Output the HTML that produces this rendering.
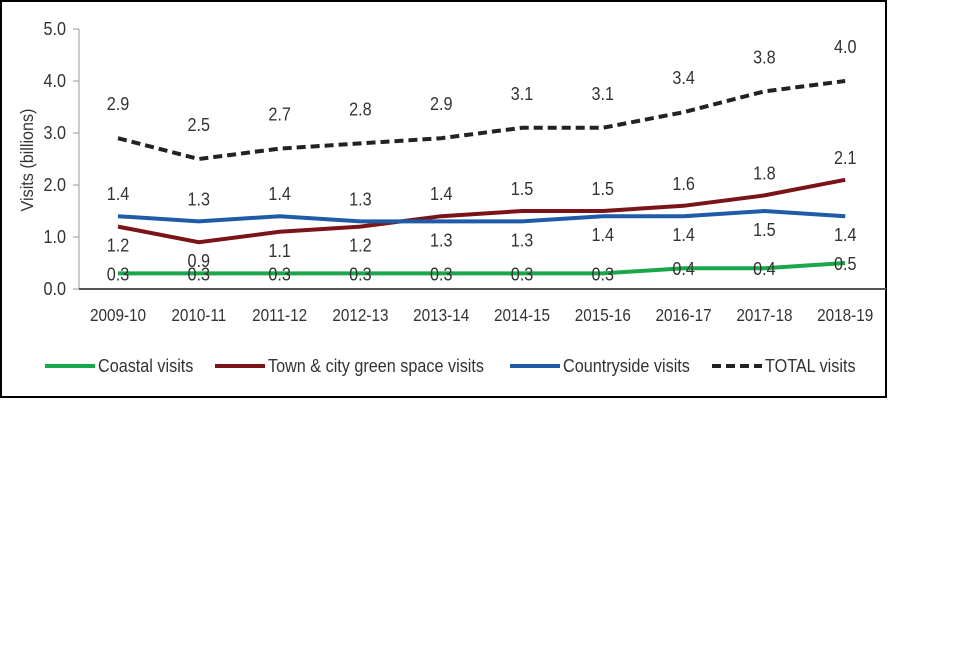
<!DOCTYPE html>
<html><head><meta charset="utf-8"><style>
html,body{margin:0;padding:0;background:#fff;}
svg text{font-family:"Liberation Sans",sans-serif;fill:#333;}
</style></head><body>
<svg id="chart" width="960" height="640" xmlns="http://www.w3.org/2000/svg">
<rect x="1" y="1" width="885" height="396" fill="#fff" stroke="#000" stroke-width="2"/>
<g id="axes"></g><g id="series"></g><g id="labels"></g>
<g id="legend"></g>
</svg>
<script>
const categories=["2009-10","2010-11","2011-12","2012-13","2013-14","2014-15","2015-16","2016-17","2017-18","2018-19"];
const coastal=[0.3,0.3,0.3,0.3,0.3,0.3,0.3,0.4,0.4,0.5];
const town=[1.2,0.9,1.1,1.2,1.4,1.5,1.5,1.6,1.8,2.1];
const countryside=[1.4,1.3,1.4,1.3,1.3,1.3,1.4,1.4,1.5,1.4];
const total=[2.9,2.5,2.7,2.8,2.9,3.1,3.1,3.4,3.8,4.0];
const townLabels=[1.2,0.9,1.1,1.2,1.3,1.3,1.4,1.4,1.5,1.4];
const countryLabels=[1.4,1.3,1.4,1.3,1.4,1.5,1.5,1.6,1.8,2.1];
const yTicks=[0,1,2,3,4,5];
const NS="http://www.w3.org/2000/svg";
const x=i=>118+i*80.8;
const y=v=>289-v*52;
function mk(tag,parent,attrs){const e=document.createElementNS(NS,tag);for(const k in attrs)e.setAttribute(k,attrs[k]);document.getElementById(parent).appendChild(e);return e;}
function txt(parent,tx,ty,anchor,size,str){
 const e=mk('text',parent,{x:0,y:0,'text-anchor':anchor,'font-size':size,transform:'translate('+tx+','+ty+') scale(0.9,1.05)'});
 e.textContent=str;return e;
}
const ax=mk('line','axes',{x1:79,y1:29,x2:79,y2:289,stroke:'#999','stroke-width':1});


const bx=mk('line','axes',{x1:79,y1:289,x2:886,y2:289,stroke:'#555','stroke-width':2});


yTicks.forEach(t=>{
 const tk=mk('line','axes',{x1:73,x2:79,y1:y(t),y2:y(t),stroke:'#999'});
 
 
 const tl=txt('axes',66,y(t)+6,'end',18,t.toFixed(1));
 
 
});
const yt=mk('text','axes',{x:0,y:0,'font-size':17,'text-anchor':'middle',transform:'translate(33,160) rotate(-90) scale(0.95,1.05)'});
yt.textContent='Visits (billions)';


categories.forEach((c,i)=>{
 const t=txt('axes',x(i),321,'middle',17,c);
 
 
});
function line(vals,color,name,dash){
 const p=mk('polyline','series',{points:vals.map((v,i)=>x(i)+','+y(v)).join(' '),fill:'none',stroke:color,'stroke-width':4,'stroke-dasharray':dash||'none'});
 
 
}
line(coastal,'#1aa64a','coastal-line');
line(town,'#7b1419','town-green-space-line');
line(countryside,'#1f5ba8','countryside-line');
line(total,'#222','total-line','9,5');
function labels(vals,base,off,name){
 vals.forEach((v,i)=>{
  const t=txt('labels',x(i),y(base[i])+off+7,'middle',18,v.toFixed(1));
  
  
 });
}
labels(total,total,-35,'total-value-label');
labels(coastal,coastal,0,'coastal-value-label');
labels(countryLabels,countryLabels.map((v,i)=>Math.max(town[i],countryside[i])),-23,'upper-value-label');
labels(townLabels,townLabels.map((v,i)=>Math.min(town[i],countryside[i])),18,'lower-value-label');
const leg=[["Coastal visits",'#1aa64a',45,null],["Town & city green space visits",'#7b1419',215,null],["Countryside visits",'#1f5ba8',510,null],["TOTAL visits",'#222',712,'9,5']];
leg.forEach(l=>{
 const ln=mk('line','legend',{x1:l[2],x2:l[2]+50,y1:366,y2:366,stroke:l[1],'stroke-width':4,'stroke-dasharray':l[3]||'none'});
 
 
 const t=txt('legend',l[2]+53,372,'start',18,l[0]);
 
 
});
</script>
</body></html>
